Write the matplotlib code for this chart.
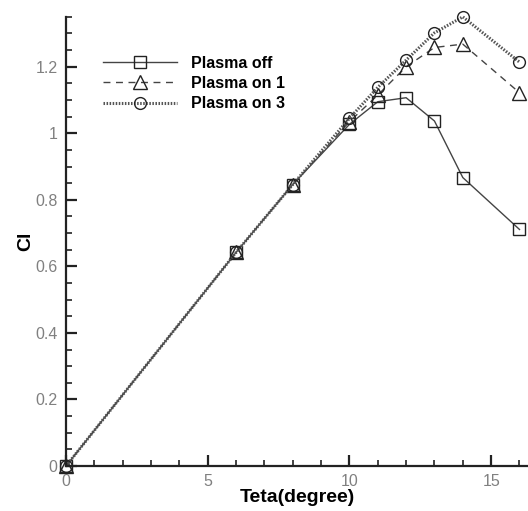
import numpy as np
import matplotlib.pyplot as plt
from matplotlib.ticker import MultipleLocator

plt.rcParams['font.family'] = ['Liberation Sans', 'DejaVu Sans']

teta = np.array([0, 6, 8, 10, 11, 12, 13, 14, 16])
cl_off = np.array([0, 0.642, 0.846, 1.027, 1.095, 1.107, 1.037, 0.867, 0.711])
cl_on1 = np.array([0, 0.642, 0.846, 1.035, 1.115, 1.200, 1.258, 1.268, 1.122])
cl_on3 = np.array([0, 0.642, 0.846, 1.045, 1.138, 1.220, 1.302, 1.350, 1.214])

fig = plt.figure(figsize=(5.28, 5.11), dpi=100)
ax = fig.add_axes([0.125, 0.088, 0.875, 0.879])

ms = 8.5
ax.plot(teta, cl_off, '-', color='#444444', lw=1, marker='s', ms=ms,
        mfc='none', mec='#222222', mew=1, label='Plasma off', clip_on=False)
ax.plot(teta, cl_on1, '--', color='#444444', lw=1, marker='^', ms=ms + 1,
        mfc='none', mec='#222222', mew=1, label='Plasma on 1', dashes=(5, 4),
        clip_on=False)
ax.plot(teta, cl_on3, color='#555555', lw=2.2, ls=(0, (0.5, 0.5)), marker='o',
        ms=ms, mfc='none', mec='#222222', mew=1, label='Plasma on 3',
        clip_on=False)

ax.set_xlim(0, 16.3)
ax.set_ylim(0, 1.35)
ax.xaxis.set_minor_locator(MultipleLocator(1))
ax.yaxis.set_minor_locator(MultipleLocator(0.05))
ax.set_yticks([0, 0.2, 0.4, 0.6, 0.8, 1.0, 1.2])
ax.set_yticklabels(['0', '0.2', '0.4', '0.6', '0.8', '1', '1.2'])
ax.set_xticks([0, 5, 10, 15])
ax.set_xticklabels(['0', '5', '10', '15'])

for s in ['top', 'right']:
    ax.spines[s].set_visible(False)
for s in ['left', 'bottom']:
    ax.spines[s].set_linewidth(1.6)
    ax.spines[s].set_color('#222222')

ax.tick_params(which='major', direction='in', length=8, width=1.6,
               colors='#222222', labelcolor='#808080', labelsize=11.5, pad=6)
ax.tick_params(which='minor', direction='in', length=4, width=1.2,
               colors='#222222')

ax.set_xlabel('Teta(degree)', fontsize=14, fontweight='bold', labelpad=0)
ax.set_ylabel('Cl', fontsize=14, fontweight='bold', labelpad=1)

ax.legend(loc='upper left', bbox_to_anchor=(0.05, 0.945), frameon=False,
          prop={'weight': 'bold', 'size': 11.5}, handlelength=4.6,
          handletextpad=0.9, labelspacing=0.32)

fig.savefig('out.png', dpi=100)
